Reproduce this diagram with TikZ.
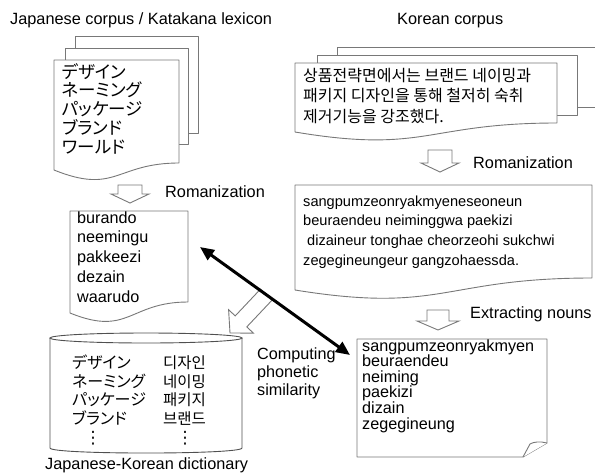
\documentclass[tikz,border=0pt]{standalone}
\usepackage{fontspec}
\setmainfont{Liberation Sans}
\newfontfamily\jpfont[RawFeature={+palt}]{Noto Sans CJK JP}
\newfontfamily\krfont{Noto Sans CJK KR}
\newfontfamily\symfont{DejaVu Sans}
\usetikzlibrary{arrows.meta}
\definecolor{docgray}{RGB}{120,120,120}
\definecolor{cylgray}{RGB}{80,80,80}
\begin{document}
\begin{tikzpicture}[x=1pt,y=-1pt,
  sheet/.style={draw=docgray, fill=white, line width=0.9pt, line join=round},
  harrow/.style={draw=docgray, fill=white, line width=0.9pt, line join=miter},
  cyl/.style={draw=cylgray, fill=white, line width=0.9pt},
  txt/.style={inner sep=0pt, anchor=base west, align=left},
  lat/.style={font=\fontsize{16.3}{18}\selectfont},
  bigarrow/.style={line width=3pt, {Triangle[length=14pt,width=12pt]}-{Triangle[length=14pt,width=12pt]}}
]
\useasboundingbox (0,0) rectangle (595,472);

% titles
\node[txt, lat] (jptitle) at (10,24.5) {Japanese corpus / Katakana lexicon};
\node[txt, lat] (krtitle) at (397,24.5) {Korean corpus};

% Japanese corpus stack
\draw[sheet] (75,36) rectangle (198,133);
\draw[sheet] (65,48) rectangle (188,144);
\draw[sheet] (54,60) -- (179,60) -- (179,163) .. controls (116,163) and (116,195) .. (54,170) -- cycle;
% base anchor = baseline of the last line
\node[txt, font=\jpfont\fontsize{17.5}{18.8}\selectfont] (jpwords) at (62,153.2)
  {デザイン\\ネーミング\\パッケージ\\ブランド\\ワールド};

% Romanization arrow (Japanese)
\draw[harrow] (118,185) -- (118,194) -- (111,194) -- (130,203) -- (149,194) -- (142,194) -- (142,185) -- cycle;
\node[txt, lat] (jprom) at (165,197) {Romanization};

% Romanized Japanese document
\draw[sheet] (70,211) -- (188,211) -- (188,302) .. controls (129,302) and (129,337) .. (70,313) -- cycle;
\node[txt, font=\fontsize{16.2}{19.75}\selectfont] (jplatin) at (77,302)
  {burando\\neemingu\\pakkeezi\\dezain\\waarudo};

% Korean corpus stack
\draw[sheet] (595,47) -- (337,47) -- (337,107) -- (595,107);
\draw[sheet] (317,55) rectangle (577,115);
\draw[sheet] (295,63) -- (557,63) -- (557,123) .. controls (426,123) and (426,154) .. (295,132) -- cycle;
\node[txt, font=\krfont\fontsize{16}{20.5}\selectfont] (krtext) at (303,122)
  {상품전략면에서는 브랜드 네이밍과\\패키지 디자인을 통해 철저히 숙취\\제거기능을 강조했다.};

% Romanization arrow (Korean)
\draw[harrow] (428,150) -- (428,163) -- (421,163) -- (440,172) -- (459,163) -- (452,163) -- (452,150) -- cycle;
\node[txt, lat] (krrom) at (473,168) {Romanization};

% Romanized Korean document
\draw[sheet] (295,185) -- (592,185) -- (592,278) .. controls (443,278) and (443,314) .. (295,290) -- cycle;
\node[txt, font=\fontsize{14.6}{19.7}\selectfont] (krlatin) at (303,265.1)
  {sangpumzeonryakmyeneseoneun\\beuraendeu neiminggwa paekizi\\\hspace*{4pt}dizaineur tonghae cheorzeohi sukchwi\\zegegineungeur gangzohaessda.};

% Extracting nouns arrow
\draw[harrow] (427,310) -- (427,321) -- (417,321) -- (438,330) -- (459,321) -- (449,321) -- (449,310) -- cycle;
\node[txt, lat] (extract) at (470,318) {Extracting nouns};

% Nouns document (folded corner)
\draw[sheet] (357,339) -- (547,339) -- (547,443) -- (523,457) -- (357,457) -- cycle;
\draw[sheet] (547,443) .. controls (540,441) and (533,442) .. (530,444) -- (523,457);
\node[txt, font=\fontsize{16.2}{15.6}\selectfont] (nouns) at (362,429)
  {sangpumzeonryakmyen\\beuraendeu\\neiming\\paekizi\\dizain\\zegegineung};

% Hollow diagonal arrow towards the dictionary
\draw[harrow] (260.4,289.2) -- (235.2,315.9) -- (228.6,309.7) -- (230,333) -- (253.4,333.1) -- (246.8,326.9) -- (272,300.2) -- cycle;

% Dictionary cylinder
\draw[cyl] (50,338) -- (50,448) .. controls (50,454.7) and (242,454.7) .. (242,448) -- (242,338);
\draw[cyl] (146,338) ellipse [x radius=96, y radius=5];
\node[txt, font=\jpfont\fontsize{16}{18.6}\selectfont] (dictjp) at (72,424.3)
  {デザイン\\ネーミング\\パッケージ\\ブランド};
\node[txt, font=\krfont\fontsize{15.5}{18.6}\selectfont] (dictkr) at (163,424.3)
  {디자인\\네이밍\\패키지\\브랜드};
\node[inner sep=0pt, font=\symfont\fontsize{17}{17}\selectfont] (jpdots) at (93,438) {⋮};
\node[inner sep=0pt, font=\symfont\fontsize{17}{17}\selectfont] (krdots) at (185,438) {⋮};
\node[txt, lat] (dictlabel) at (45,469) {Japanese-Korean dictionary};

% Computing phonetic similarity
\node[txt, font=\fontsize{16.2}{18}\selectfont] (computing) at (257,395)
  {Computing\\phonetic\\similarity};

% Thick double arrow
\coordinate (pA) at (200,247);
\coordinate (pB) at (350,355);
\draw[bigarrow] (pA) -- (pB);
\end{tikzpicture}
\end{document}
